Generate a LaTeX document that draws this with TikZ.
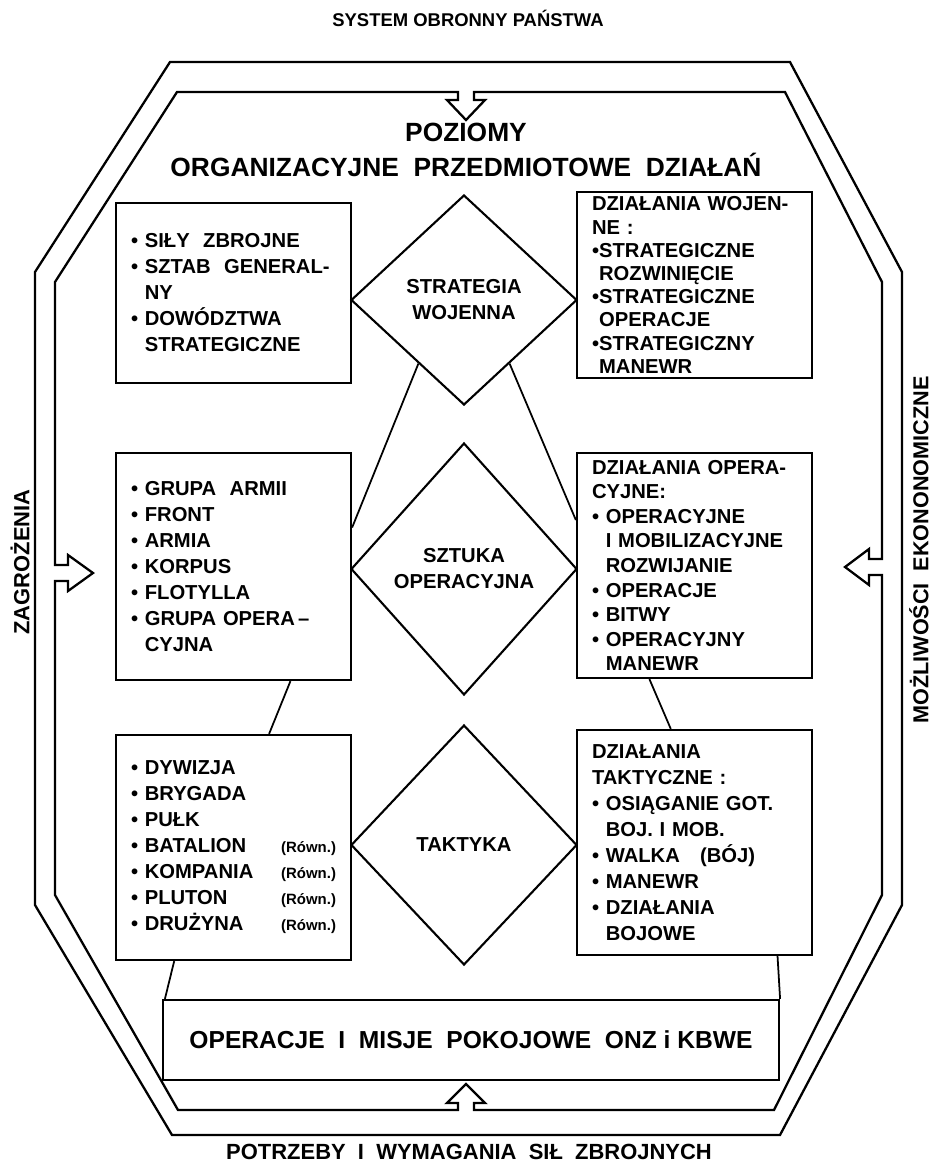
\documentclass[tikz,border=0pt]{standalone}
\usepackage{fontspec}
\setmainfont{Liberation Sans}
\usetikzlibrary{shapes.geometric,calc}

\newcommand\boxfont{\fontsize{11.5}{14.8}\selectfont\bfseries}
\newcommand\ibul{\textbullet\ }
\newcommand\iind{\phantom{\textbullet\ }}
\newcommand\rown{{\fontsize{8.5}{10}\selectfont(Równ.)}}

\tikzset{
  box/.style={draw, line width=1.3pt, minimum width=4.7cm, text width=4.1cm,
    inner xsep=0.3cm, align=left, font=\boxfont},
  romb/.style={draw, diamond, line width=1.2pt, inner sep=0pt,
    minimum width=4.52cm, align=center, font=\boxfont},
  link/.style={line width=1pt},
  hull/.style={line width=1.3pt, line join=miter},
  sidetext/.style={font=\fontsize{12.3}{14}\selectfont\bfseries}
}

\begin{document}
\begin{tikzpicture}[x=0.02cm, y=-0.02cm]
\useasboundingbox (0,0) rectangle (932,1167);
\fill[white] (0,0) rectangle (932,1167);
% outer frame
\draw[hull] (170,62) -- (790,62) -- (902,272) -- (902,905) -- (780,1135)
  -- (172,1135) -- (35,905) -- (35,272) -- cycle;
% inner frame with the four inlet arrows
\draw[hull] (177,92) -- (458,92) -- (458,100) -- (447,100) -- (466,120)
  -- (485,100) -- (474,100) -- (474,92) -- (785,92) -- (882,282)
  -- (882,559) -- (869,559) -- (869,549) -- (845,567) -- (869,585)
  -- (869,575) -- (882,575) -- (882,895) -- (774,1110) -- (474,1110)
  -- (474,1103) -- (485,1103) -- (466,1084) -- (447,1103) -- (458,1103)
  -- (458,1110) -- (178,1110) -- (55,895) -- (55,581) -- (68,581)
  -- (68,591) -- (93,573) -- (68,555) -- (68,565) -- (55,565) -- (55,282) -- cycle;
% labels round the frame
\node[sidetext, font=\fontsize{10.5}{12}\selectfont\bfseries] (sys) at (468,18)
  {SYSTEM OBRONNY PAŃSTWA};
\node[sidetext, font=\fontsize{12.5}{14}\selectfont\bfseries] (potrz) at (469,1152)
  {POTRZEBY\ \ I\ \ WYMAGANIA\ \ SIŁ\ \ ZBROJNYCH};
\node[sidetext, font=\fontsize{12.5}{14}\selectfont\bfseries, rotate=90] (zag) at (20,562) {ZAGROŻENIA};
\node[sidetext, rotate=90] (moz) at (919,550) {MOŻLIWOŚCI\ \ EKONONOMICZNE};
% heading
\node[font=\fontsize{15}{19.5}\selectfont\bfseries, align=center] (poz) at (466,150)
  {POZIOMY\\ORGANIZACYJNE\ \ PRZEDMIOTOWE\ \ DZIAŁAŃ};
% middle column
\node[romb, minimum height=4.2cm] (d1) at (464,300) {STRATEGIA\\WOJENNA};
\node[romb, minimum height=5.04cm] (d2) at (464,569) {SZTUKA\\OPERACYJNA};
\node[romb, minimum height=4.8cm] (d3) at (464,845) {TAKTYKA};
% left column
\node[box, minimum height=3.6cm] (tl) at (233.5,293)
  {\ibul SIŁY\ \ ZBROJNE\\\ibul SZTAB\ \ GENERAL-\\\iind NY\\\ibul DOWÓDZTWA\\\iind STRATEGICZNE};
\node[box, minimum height=4.54cm] (ml) at (233.5,566.5)
  {\ibul GRUPA\ \ ARMII\\\ibul FRONT\\\ibul ARMIA\\\ibul KORPUS\\\ibul FLOTYLLA\\
   \ibul GRUPA OPERA\,--\\\iind CYJNA};
\node[box, minimum height=4.5cm] (bl) at (233.5,847.5)
  {\ibul DYWIZJA\\\ibul BRYGADA\\\ibul PUŁK\\\ibul BATALION\hfill\rown\\
   \ibul KOMPANIA\hfill\rown\\\ibul PLUTON\hfill\rown\\\ibul DRUŻYNA\hfill\rown};
% right column
\node[box, minimum height=3.72cm, inner ysep=1pt, font=\fontsize{11.5}{13.2}\selectfont\bfseries] (tr) at (694.5,285)
  {DZIAŁANIA WOJEN-\\NE :\\\textbullet STRATEGICZNE\\\phantom{\textbullet}ROZWINIĘCIE\\
   \textbullet STRATEGICZNE\\\phantom{\textbullet}OPERACJE\\
   \textbullet STRATEGICZNY\\\phantom{\textbullet}MANEWR};
\node[box, minimum height=4.5cm, font=\fontsize{11.5}{14}\selectfont\bfseries] (mr) at (694.5,565.5)
  {DZIAŁANIA OPERA-\\CYJNE:\\\ibul OPERACYJNE\\\iind I MOBILIZACYJNE\\\iind ROZWIJANIE\\
   \ibul OPERACJE\\\ibul BITWY\\\ibul OPERACYJNY\\\iind MANEWR};
\node[box, minimum height=4.5cm] (br) at (694.5,842.5)
  {DZIAŁANIA\\TAKTYCZNE :\\\ibul OSIĄGANIE GOT.\\\iind BOJ. I MOB.\\
   \ibul WALKA\ \ \ (BÓJ)\\\ibul MANEWR\\\ibul DZIAŁANIA\\\iind BOJOWE};
% bottom
\node[draw, line width=1.3pt, minimum width=12.32cm, minimum height=1.6cm,
  font=\fontsize{14}{17}\selectfont\bfseries] (onz) at (471,1040)
  {OPERACJE\ \ I\ \ MISJE\ \ POKOJOWE\ \ ONZ\ i\ KBWE};
% connectors
\draw[link] ($(d1.west)!0.6!(d1.south)$) -- ($(ml.north east)!0.33!(ml.south east)$);
\draw[link] ($(d1.east)!0.6!(d1.south)$) -- ($(mr.north west)!0.3!(mr.south west)$);
\draw[link] ($(ml.south west)!0.74!(ml.south east)$) -- ($(bl.north west)!0.65!(bl.north east)$);
\draw[link] ($(mr.south west)!0.31!(mr.south east)$) -- ($(br.north west)!0.4!(br.north east)$);
\draw[link] ($(bl.south west)!0.25!(bl.south east)$) -- ($(onz.north west)+(3,0)$);
\draw[link] ($(br.south west)!0.85!(br.south east)$) -- (onz.north east);
\end{tikzpicture}
\end{document}
